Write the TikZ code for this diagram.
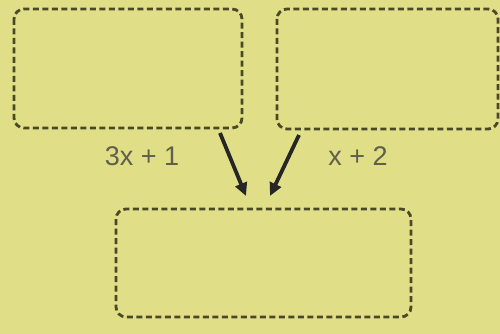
\documentclass[tikz,border=0pt]{standalone}
\usepackage{fontspec}
\setmainfont{Liberation Sans}
\usetikzlibrary{arrows.meta}
\definecolor{bg}{RGB}{224,222,134}
\definecolor{dashc}{RGB}{75,72,40}
\definecolor{txt}{RGB}{95,95,75}
\tikzset{
  dbox/.style={draw=dashc, line width=2.8pt, dash pattern=on 6pt off 3.5pt, rounded corners=10pt},
  lab/.style={text=txt, font=\fontsize{27}{30}\selectfont, inner sep=0pt},
  arr/.style={draw=black!85, line width=3.8pt, -{Triangle[length=13pt,width=12pt]}}
}
\begin{document}
\begin{tikzpicture}[x=1pt,y=-1pt]
\fill[bg] (0,0) rectangle (500,334);
\useasboundingbox (0,0) rectangle (500,334);
\draw[dbox] (14,9) rectangle (242,128);
\draw[dbox] (277,9) rectangle (498,129);
\draw[dbox] (116,209) rectangle (411,317);
\node[lab] (l1) at (142,156) {3x + 1};
\node[lab] (l2) at (358,156) {x + 2};
\coordinate (a1s) at (220,133);
\coordinate (a1e) at (246,196);
\coordinate (a2s) at (299,135);
\coordinate (a2e) at (270,196);
\draw[arr] (a1s) -- (a1e);
\draw[arr] (a2s) -- (a2e);
\end{tikzpicture}
\end{document}
